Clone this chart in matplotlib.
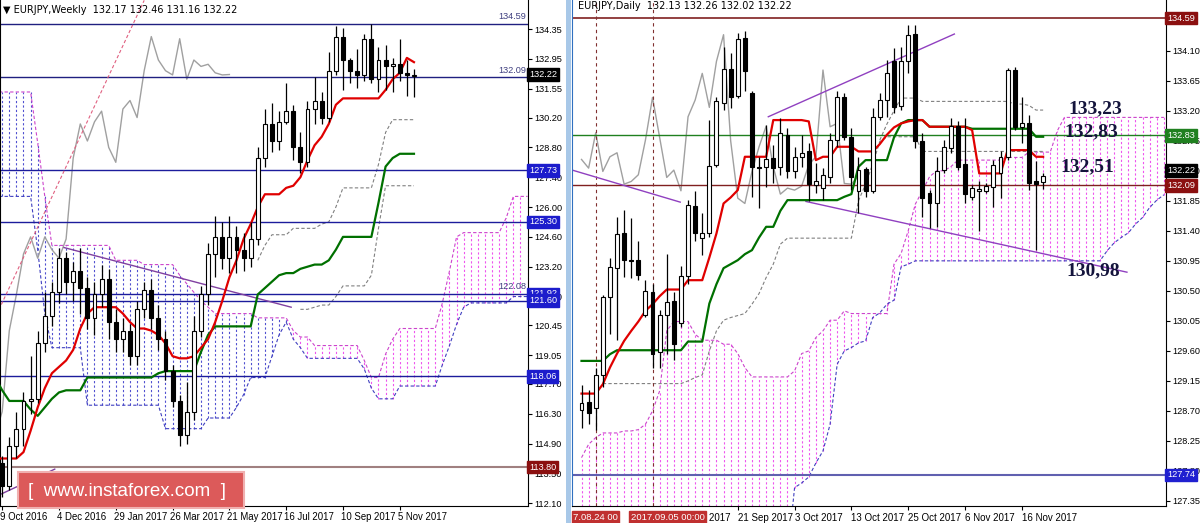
import numpy as np
import pandas as pd
import matplotlib
matplotlib.use("Agg")
import matplotlib.pyplot as plt
from matplotlib.patches import Rectangle
import matplotlib.transforms as mtrans

# ---------------- LEFT (weekly) data ----------------
w_open  = [114.6,114.0,112.9,114.8,115.6,116.9,117.0,119.6,120.9,122.0,123.6,122.5,123.0,122.2,120.8,121.9,122.6,120.6,119.8,120.2,
           119.0,121.2,122.1,120.8,119.8,118.3,116.9,115.3,116.4,120.2,121.9,123.8,124.6,123.6,124.6,124.0,123.6,124.5,128.3,129.9,
           129.1,130.0,130.5,128.8,128.1,130.6,131.0,130.2,132.4,134.0,132.9,132.4,132.2,133.9,132.0,132.9,132.6,132.7,132.3,132.17]
w_close = [114.0,112.9,114.8,115.6,116.9,117.0,119.6,120.9,122.0,123.6,122.5,123.0,122.2,120.8,121.9,122.6,120.6,119.8,120.2,119.0,
           121.2,122.1,120.8,119.8,118.3,116.9,115.3,116.4,120.2,121.9,123.8,124.6,123.6,124.6,124.0,123.6,124.5,128.3,129.9,129.1,
           130.0,130.5,128.8,128.1,130.6,131.0,130.2,132.4,134.0,132.9,132.4,132.2,133.9,132.0,132.9,132.6,132.7,132.3,132.2,132.22]
w_high  = [115.4,114.3,115.2,116.4,117.3,119.0,120.2,122.0,122.5,124.1,123.9,123.4,124.1,122.7,122.5,123.3,123.1,121.2,120.8,120.5,
           121.6,122.5,122.6,121.4,120.2,118.6,117.2,117.8,120.9,122.3,124.3,125.6,125.3,125.6,125.1,124.8,125.3,128.8,130.6,130.9,
           130.5,131.8,130.8,129.5,131.0,132.1,131.4,133.3,134.5,134.4,133.0,133.4,134.1,134.6,133.5,133.6,133.0,133.9,132.9,132.46]
w_low   = [113.3,112.4,112.7,114.2,114.8,116.3,116.8,119.2,120.4,121.5,121.9,121.6,121.0,120.3,120.0,121.3,119.8,119.2,119.2,118.6,
           118.6,120.8,120.3,119.3,117.9,116.6,114.8,114.9,116.0,119.9,121.4,122.7,123.1,122.9,122.9,123.0,123.2,124.2,127.9,128.6,
           128.7,129.9,128.2,127.6,127.9,129.9,129.9,130.0,132.2,131.5,131.8,131.6,131.9,131.8,131.4,131.5,131.4,131.9,131.2,131.16]
w_tenkan = [114.2,114.2,114.2,114.2,114.5,115.5,116.6,117.5,118.2,118.5,118.8,119.3,120.3,121.0,121.3,121.3,121.3,121.3,121.0,120.6,
            120.3,120.3,120.2,120.0,119.6,119.0,118.9,118.9,119.0,119.4,119.8,120.6,121.6,122.7,123.5,124.5,125.2,126.0,126.6,126.6,
            126.6,126.9,127.0,127.4,128.2,128.9,129.3,129.9,130.8,131.1,131.1,131.1,131.1,131.1,131.1,131.5,132.0,132.3,133.0,132.8]
w_kijun = [118.0,117.4,116.9,116.9,116.9,116.5,116.2,116.6,117.0,117.3,117.4,117.4,117.4,118.0,118.0,118.0,118.0,118.0,118.0,118.0,
           118.0,118.0,118.0,118.2,118.3,118.3,118.3,118.3,118.3,119.2,120.0,120.4,120.4,120.4,120.4,120.4,120.4,121.9,122.2,122.5,
           122.8,122.9,122.9,123.1,123.2,123.3,123.3,123.5,124.0,124.6,124.6,124.6,124.6,124.6,126.2,127.9,128.3,128.5,128.5,128.5]
w_cloud_up = [131.4,131.4,131.4,131.4,131.4,131.4,129.0,126.5,124.2,124.2,124.2,124.2,124.2,124.2,124.2,124.2,124.2,123.5,123.5,123.5,
              123.5,123.3,123.3,123.3,123.3,123.3,122.8,122.4,122.0,121.6,121.3,121.0,121.0,121.0,121.0,121.0,121.0,120.8,120.8,120.8,
              120.8,120.8,120.2,119.9,119.9,119.5,119.5,119.5,119.5,119.5,119.5,119.5,118.8,118.0,118.0,119.1,119.8,120.3,120.3,120.3,
              120.3,120.3,120.3,121.5,123.0,124.6,124.8,124.8,124.8,124.8,124.8,124.8,125.5,126.5,126.5,126.5]
w_cloud_lo = [126.5,126.5,126.5,126.5,126.5,126.5,124.0,121.0,119.4,119.4,119.4,119.4,119.4,116.7,116.7,116.7,116.7,116.7,116.7,116.7,
              116.7,116.7,116.7,116.7,115.6,115.6,115.6,115.6,115.6,115.6,116.1,116.1,116.1,116.1,116.6,117.2,118.0,118.0,118.0,119.0,
              120.0,120.6,119.8,119.4,118.9,118.9,118.9,118.9,118.9,118.9,118.9,118.9,118.4,117.5,117.0,117.0,117.0,117.6,117.6,117.6,
              117.6,117.6,117.6,118.6,119.5,120.5,121.3,121.5,121.5,121.5,121.5,121.5,121.5,121.8,121.8,121.8]
w_bull_from = 42  # cloud turns pink from this week index
w_dash_hi = [np.nan]*37 + [123.5,124.2,124.7,124.7,124.7,125.0,125.0,125.0,125.0,125.2,125.3,126.0,126.9,126.9,126.9,126.9,126.9,
                           128.0,129.5,130.1,130.1,130.1,130.1]
w_dash_lo = [np.nan]*43 + [121.2,121.2,121.3,121.4,121.4,121.8,122.3,122.3,122.3,122.3,122.8,125.0,127.0,127.0,127.0,127.0,127.0]
w_levels = [134.59,132.09,127.73,125.30,121.92,121.60,118.06,113.80]
w_ticks = [134.35,132.95,131.55,130.20,128.80,127.40,126.00,124.60,123.20,121.80,120.45,119.05,117.70,116.30,114.90,113.50,112.10]
w_xlabels = ["9 Oct 2016","4 Dec 2016","29 Jan 2017","26 Mar 2017","21 May 2017","16 Jul 2017","10 Sep 2017","5 Nov 2017"]
w_xlabel_idx = [1,9,17,25,33,41,49,57]

# ---------------- RIGHT (daily) data ----------------
d_open  = [128.71,128.84,128.74,129.24,130.41,130.84,131.36,130.97,130.97,130.14,130.49,129.59,130.14,130.35,130.02,130.72,131.77,131.29,
           131.36,132.39,133.32,133.82,133.42,134.29,133.46,132.36,132.36,132.49,132.36,132.84,132.29,132.51,132.59,132.09,132.04,132.21,
           132.76,133.40,132.81,132.00,132.32,132.00,133.11,133.36,133.94,133.27,133.94,134.35,132.75,131.96,131.81,132.31,132.64,132.97,
           132.40,131.91,132.00,132.00,132.06,132.26,132.51,133.81,132.96,133.01,132.15,132.13]
d_close = [128.82,128.67,129.24,130.41,130.86,131.35,130.97,130.95,130.74,130.50,129.56,130.14,130.34,129.71,130.72,131.79,131.36,131.36,
           132.37,133.35,133.82,133.41,134.27,133.79,132.36,132.34,132.47,132.34,132.87,132.29,132.51,132.57,132.10,132.14,132.24,132.76,
           133.40,132.80,132.20,132.31,132.00,133.11,133.36,133.76,133.25,133.94,134.34,132.75,131.89,131.81,132.29,132.66,132.97,132.36,
           131.95,132.04,132.01,132.07,132.39,132.51,133.81,132.96,133.01,132.11,132.10,132.22]
d_high  = [129.09,129.01,129.34,130.44,130.99,131.61,131.71,131.59,131.24,130.66,130.61,130.21,131.06,130.48,130.87,131.86,131.99,131.66,
           133.06,133.41,134.16,134.06,134.36,134.40,133.49,132.51,132.99,132.68,133.09,132.94,132.66,132.84,132.71,132.41,132.34,132.86,
           133.49,133.46,132.94,132.51,132.36,133.24,133.46,133.96,134.14,134.16,134.49,134.49,132.86,132.01,132.51,132.76,133.09,133.04,
           133.09,132.09,132.14,132.11,132.46,132.59,133.84,133.86,133.41,133.14,132.44,132.26]
d_low   = [128.44,128.51,128.41,129.06,129.86,129.76,130.71,130.69,130.66,130.11,129.34,129.34,129.56,129.46,129.96,130.61,131.24,131.04,
           131.31,132.36,133.21,133.24,133.39,133.49,131.91,131.74,132.06,132.11,132.24,132.19,132.19,132.36,131.84,131.96,131.86,132.11,
           132.66,132.76,132.01,131.66,131.91,131.96,133.06,133.11,133.16,133.21,133.76,132.64,131.61,131.44,131.46,132.26,132.56,132.31,
           131.81,131.86,131.39,131.96,131.76,131.89,132.46,132.91,132.71,132.01,131.11,132.02]
d_tenkan = [128.96,128.96,128.96,129.1,129.35,129.56,129.75,129.9,130.04,130.2,130.3,130.42,130.52,130.52,130.52,130.66,130.66,130.66,
            131.0,131.36,131.81,131.9,132.01,132.51,132.51,132.51,132.51,133.06,133.06,133.06,133.06,133.06,133.04,132.46,132.51,132.51,
            132.66,132.66,132.66,132.59,132.59,132.59,132.7,132.84,132.95,133.01,133.04,133.06,133.06,132.96,132.96,132.96,132.96,132.96,
            132.96,132.91,132.26,132.26,132.26,132.26,132.61,132.61,132.61,132.61,132.51,132.51]
d_kijun = [129.45,129.45,129.45,129.45,129.55,129.61,129.61,129.61,129.61,129.61,129.61,129.61,129.61,129.61,129.61,129.74,129.74,129.74,
           130.31,130.6,130.84,130.9,130.96,131.05,131.11,131.3,131.46,131.46,131.7,131.86,131.86,131.86,131.86,131.86,131.86,131.86,
           131.86,131.91,131.95,132.36,132.46,132.46,132.46,132.46,132.8,133.01,133.06,133.06,133.06,132.96,132.96,132.96,132.96,132.96,
           132.96,132.93,132.93,132.93,132.93,132.93,132.93,132.93,132.93,132.93,132.81,132.81]
d_cloud_up = [128.0,128.2,128.3,128.37,128.37,128.37,128.4,128.4,128.42,128.5,128.7,129.0,129.9,130.04,130.04,130.04,129.85,129.76,
              129.76,129.76,129.7,129.7,129.56,129.35,129.21,129.21,129.21,129.21,129.21,129.21,129.3,129.56,129.6,129.8,129.9,130.06,
              130.06,130.2,130.16,130.16,130.16,130.16,130.16,130.16,130.9,131.06,131.4,131.8,132.0,132.21,132.3,132.3,132.36,132.46,
              132.46,132.46,132.46,132.46,132.46,132.46,132.5,132.5,132.5,132.58,132.58,132.58,132.58,132.9,133.1,133.1,133.1,133.1,
              133.1,133.1,133.1,133.1,133.1,133.1,133.1,133.1,133.1,133.1,133.1]
d_cloud_lo = [126.5]*30 + [127.55,127.62,127.71,127.92,128.1,128.5,129.4,129.6,129.65,129.72,129.75,130.1,130.17,130.3,130.36,130.86,
              130.9] + [130.95]*27 + [131.1,131.22,131.3,131.37,131.5,131.6,131.75,131.86,131.94]
d_dash_hi = [np.nan]*42 + [132.76,133.0,133.2,133.39,133.39,133.39] + [133.34]*13 + [133.3,133.3,133.28,133.21,133.21]
d_dash_lo = [np.nan]*3 + [129.11]*12 + [129.15,129.2,129.24,129.6,129.9,130.06,130.1,130.13,130.16,130.3,130.46,130.7,130.9,131.2] + \
            [131.29]*10 + [131.85,132.1,132.4,132.74,132.81,132.81,132.81,132.81,132.81] + [132.59]*18
d_ticks = [134.10,133.65,133.20,132.75,132.30,131.85,131.40,130.95,130.50,130.05,129.60,129.15,128.70,128.25,127.80,127.35]
d_xlabels = ["21 Sep 2017","3 Oct 2017","13 Oct 2017","25 Oct 2017","6 Nov 2017","16 Nov 2017"]
d_xlabel_dates = ["2017-09-21","2017-10-03","2017-10-13","2017-10-25","2017-11-06","2017-11-16"]
d_notes = ["133,23","132,83","132,51","130,98"]

plt.rcParams['font.family'] = ['Liberation Sans', 'DejaVu Sans']
fig = plt.figure(figsize=(12, 5.23), dpi=100)
H = 523.0
axL = fig.add_axes([0/1200, 17/H, 528/1200, 506/H])
axR = fig.add_axes([572/1200, 17/H, 594/1200, 506/H])
TF = 6.6  # tick font size

def candles(ax, o, h, l, c, w):
    x = np.arange(len(o))
    o, h, l, c = map(np.asarray, (o, h, l, c))
    ax.vlines(x, l, h, color='black', lw=0.9, zorder=4)
    bull = c >= o
    bot = np.minimum(o, c); ht = np.maximum(np.abs(c - o), 0.02)
    ax.bar(x[bull], ht[bull], bottom=bot[bull], width=w, facecolor='white', edgecolor='black', lw=0.8, zorder=5)
    ax.bar(x[~bull], ht[~bull], bottom=bot[~bull], width=w, facecolor='black', edgecolor='black', lw=0.8, zorder=5)

def cloud(ax, up, lo, colors):
    x = np.arange(len(up))
    for i in x:
        ax.vlines(i, lo[i], up[i], colors=colors[i], linestyles=(0, (2, 2)), lw=0.8, zorder=1)
    ax.plot(x, up, color='#cc44cc', ls=(0, (3, 2)), lw=0.8, zorder=1)
    ax.plot(x, lo, color='#4040c0', ls=(0, (3, 2)), lw=0.8, zorder=1)

def box(ax, y, txt, fc, tc='white'):
    tr = mtrans.blended_transform_factory(ax.transAxes, ax.transData)
    ax.text(1.002, y, txt, transform=tr, ha='left', va='center', fontsize=TF, color=tc,
            bbox=dict(boxstyle='square,pad=0.2', fc=fc, ec=fc), zorder=20, clip_on=False)

def yticks(ax, ticks):
    ax.yaxis.tick_right()
    ax.set_yticks(ticks)
    ax.set_yticklabels([f"{t:.2f}" for t in ticks], fontsize=TF)
    ax.tick_params(axis='y', length=3, pad=1.5)

# ---------- LEFT ----------
ax = axL
n = len(w_open)
cols = ['#5050d0' if i < w_bull_from else '#ee55ee' for i in range(len(w_cloud_up))]
cloud(ax, w_cloud_up, w_cloud_lo, cols)
ax.plot(np.arange(len(w_dash_hi)), w_dash_hi, color='#808080', ls=(0, (3, 2)), lw=0.8)
ax.plot(np.arange(len(w_dash_lo)), w_dash_lo, color='#808080', ls=(0, (3, 2)), lw=0.8)
chik = np.asarray(w_close)[26:]
ax.plot(np.arange(len(chik)), chik, color='#a0a0a0', lw=1)
for lv in w_levels[:-1]:
    ax.axhline(lv, color='#1c1c9c' if lv not in (134.59, 132.09) else '#202080', lw=1, zorder=2)
ax.axhline(113.80, color='#a08080', lw=1.5, zorder=2)
ax.plot([0, 21], [120.8, 135.7], color='#e06080', ls=(0, (3, 2)), lw=0.8)
ax.plot([9.7, 41.7], [124.1, 121.3], color='#8040a0', lw=1)
ax.plot([0, 8.4], [112.4, 113.7], color='#8040a0', lw=1)
ax.plot(np.arange(n), w_kijun, color='#007000', lw=1.6, zorder=3)
ax.plot(np.arange(n), w_tenkan, color='#e00000', lw=1.6, zorder=3)
candles(ax, w_open, w_high, w_low, w_close, 0.55)
ax.set_xlim(0.69, 75.06)
ax.set_ylim(111.97, 135.717)
yticks(ax, w_ticks)
ax.set_xticks(w_xlabel_idx)
ax.set_xticklabels([])
ax.tick_params(axis='x', length=3)
for i, lab in zip(w_xlabel_idx, w_xlabels):
    ax.text(i - 0.3, 111.97 - 0.3, lab, fontsize=6.9, ha='left', va='top', clip_on=False)
ax.spines['top'].set_visible(False)
box(ax, 132.22, "132.22", 'black')
for lv in [127.73, 125.30, 121.92, 121.60, 118.06]:
    box(ax, lv, f"{lv:.2f}", '#1c1ccc')
box(ax, 113.80, "113.80", '#8b1010')
for y, t in [(134.59, "134.59"), (132.09, "132.09"), (121.92, "122.08")]:
    ax.text(74.8, y + 0.12, t, fontsize=TF, ha='right', va='bottom', color='#404080')
ax.text(0.005, 0.99, "\u25bc EURJPY,Weekly  132.17 132.46 131.16 132.22", transform=ax.transAxes,
        fontsize=7, va='top', ha='left', family=['DejaVu Sans'])

# ---------- RIGHT ----------
ax = axR
nd = len(d_open)
dates = pd.bdate_range(end="2017-11-21", periods=nd)
cloud(ax, d_cloud_up, d_cloud_lo, ['#ee55ee'] * len(d_cloud_up))
ax.plot(np.arange(len(d_dash_hi)), d_dash_hi, color='#808080', ls=(0, (3, 2)), lw=0.8)
ax.plot(np.arange(len(d_dash_lo)), d_dash_lo, color='#808080', ls=(0, (3, 2)), lw=0.8)
chik = np.asarray(d_close)[26:]
ax.plot(np.arange(len(chik)), chik, color='#a0a0a0', lw=1)
ax.axhline(134.59, color='#802020', lw=1.2, zorder=2)
ax.axhline(132.83, color='#208020', lw=1, zorder=2)
ax.axhline(132.09, color='#802020', lw=1, zorder=2)
ax.axhline(127.74, color='#6060b0', lw=1.5, zorder=2)
for d in ["2017-08-24", "2017-09-05"]:
    i = dates.get_loc(pd.Timestamp(d))
    ax.axvline(i, color='#803030', ls=(0, (3, 3)), lw=0.8, zorder=2)
ax.plot([-1.3, 13.9], [132.31, 131.83], color='#9040c0', lw=1)
ax.plot([26.3, 52.5], [133.11, 134.35], color='#9040c0', lw=1)
ax.plot([31.6, 76.8], [131.84, 130.78], color='#9040c0', lw=1)
ax.plot(np.arange(nd), d_kijun, color='#007000', lw=1.6, zorder=3)
ax.plot(np.arange(nd), d_tenkan, color='#e00000', lw=1.6, zorder=3)
candles(ax, d_open, d_high, d_low, d_close, 0.55)
ax.set_xlim(-1.34, 82.3)
ax.set_ylim(127.275, 134.86)
yticks(ax, d_ticks)
pos = [dates.get_loc(pd.Timestamp(d)) for d in d_xlabel_dates]
ax.set_xticks(pos)
ax.set_xticklabels([])
ax.tick_params(axis='x', length=3)
for i, lab in zip(pos, d_xlabels):
    ax.text(i, 127.275 - 0.1, lab, fontsize=7.0, ha='left', va='top', clip_on=False)
ax.text(15.2, 127.275 - 0.1, "Sep 2017", fontsize=7.0, ha='left', va='top', clip_on=False)
ax.text(-1.2, 127.275 - 0.1, "7.08.24 00", fontsize=6.8, ha='left', va='top', color='white', clip_on=False,
        bbox=dict(boxstyle='square,pad=0.15', fc='#c03030', ec='#c03030'))
ax.text(6.9, 127.275 - 0.1, "2017.09.05 00:00", fontsize=6.8, ha='left', va='top', color='white', clip_on=False,
        bbox=dict(boxstyle='square,pad=0.15', fc='#c03030', ec='#c03030'))
ax.spines['top'].set_visible(False)
ax.spines['left'].set_color('#3070c0')
box(ax, 134.59, "134.59", '#8b1010')
box(ax, 132.83, "132.83", '#208020')
box(ax, 132.30, "132.22", 'black')
box(ax, 132.08, "132.09", '#8b1010')
box(ax, 127.74, "127.74", '#2020d0')
note_x = [68.5, 68.0, 67.5, 68.3]
for x, t, p in zip(note_x, d_notes, [133.23, 132.88, 132.36, 130.80]):
    ax.text(x, p, t, fontsize=14, fontweight='bold', family='Liberation Serif', color='#14143c',
            ha='left', va='center', zorder=30)
ax.text(-0.5, 134.84, "EURJPY,Daily  132.13 132.26 132.02 132.22", fontsize=7, va='top', ha='left',
        family=['DejaVu Sans'])

# separator band and watermark
fig.patches.append(Rectangle((566/1200, 0), 5/1200, 1, transform=fig.transFigure, fc='#a8c8e8', ec='none'))
fig.patches.append(Rectangle((18/1200, 1 - 508/H), 226/1200, 36/H, transform=fig.transFigure,
                             fc='#dc5a5a', ec='#f0b0b0', lw=1.5, zorder=50))
fig.text(28/1200, 1 - 491/H, "[  www.instaforex.com  ]", fontsize=13.5, color='white', va='center', ha='left', zorder=51)

fig.savefig("out.png", dpi=100, facecolor='white')
